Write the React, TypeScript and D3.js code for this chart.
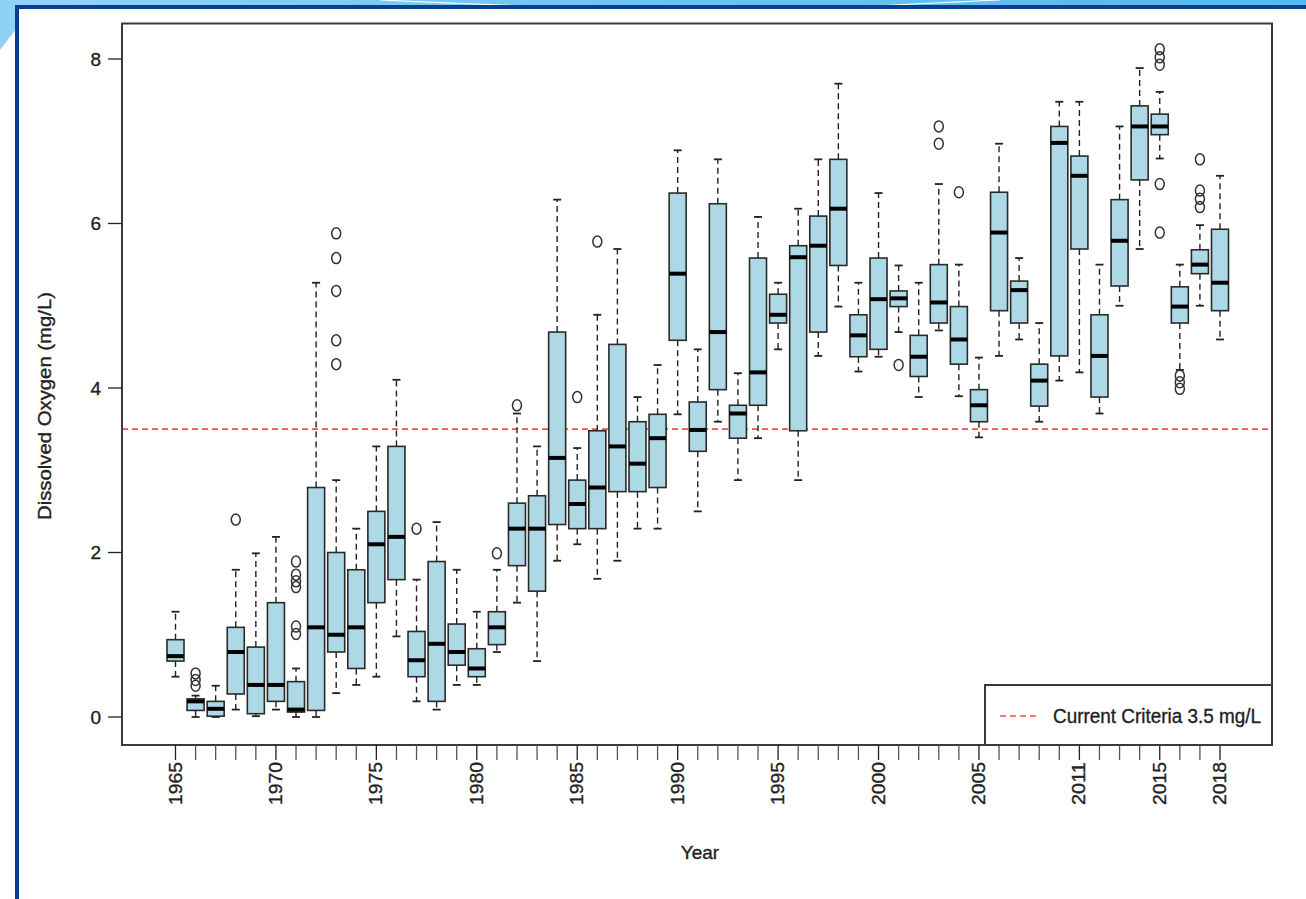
import React from "react";
import * as d3 from "d3";

// years on the x axis (2010 is not in the record)
const years = [
  1965, 1966, 1967, 1968, 1969, 1970, 1971, 1972, 1973, 1974, 1975, 1976, 1977, 1978,
  1979, 1980, 1981, 1982, 1983, 1984, 1985, 1986, 1987, 1988, 1989, 1990, 1991, 1992,
  1993, 1994, 1995, 1996, 1997, 1998, 1999, 2000, 2001, 2002, 2003, 2004, 2005, 2006,
  2007, 2008, 2009, 2011, 2012, 2013, 2014, 2015, 2016, 2017, 2018,
];
const labeledYears = [1965, 1970, 1975, 1980, 1985, 1990, 1995, 2000, 2005, 2011, 2015, 2018];

const whiskerLow = [
  0.49, 0.0, 0.0, 0.09, 0.01, 0.09, 0.0, 0.0, 0.29, 0.39, 0.49, 0.98, 0.19, 0.09,
  0.39, 0.39, 0.79, 1.39, 0.68, 1.9, 2.1, 1.68, 1.9, 2.29, 2.29, 3.68, 2.5, 3.59,
  2.88, 3.39, 4.47, 2.88, 4.39, 4.99, 4.2, 4.38, 4.68, 3.89, 4.7, 3.9, 3.4, 4.39,
  4.59, 3.59, 4.09, 4.19, 3.69, 5.0, 5.69, 6.79, 4.22, 5.0, 4.59,
];
const q1 = [
  0.68, 0.08, 0.01, 0.28, 0.04, 0.19, 0.06, 0.08, 0.79, 0.59, 1.39, 1.67, 0.49, 0.19,
  0.63, 0.49, 0.88, 1.84, 1.53, 2.34, 2.29, 2.29, 2.74, 2.74, 2.79, 4.58, 3.23, 3.98,
  3.39, 3.79, 4.79, 3.48, 4.68, 5.49, 4.38, 4.47, 4.99, 4.14, 4.79, 4.29, 3.59, 4.94,
  4.79, 3.78, 4.39, 5.69, 3.89, 5.24, 6.53, 7.08, 4.79, 5.39, 4.94,
];
const median = [
  0.74, 0.19, 0.1, 0.79, 0.39, 0.39, 0.09, 1.09, 1.0, 1.09, 2.1, 2.19, 0.69, 0.89,
  0.79, 0.59, 1.09, 2.29, 2.29, 3.15, 2.59, 2.79, 3.29, 3.08, 3.39, 5.39, 3.49, 4.68,
  3.69, 4.19, 4.89, 5.59, 5.73, 6.18, 4.64, 5.08, 5.09, 4.38, 5.04, 4.59, 3.79, 5.89,
  5.19, 4.09, 6.98, 6.58, 4.39, 5.79, 7.18, 7.18, 4.99, 5.5, 5.28,
];
const q3 = [
  0.94, 0.22, 0.19, 1.09, 0.85, 1.39, 0.43, 2.79, 2.0, 1.79, 2.5, 3.29, 1.04, 1.89,
  1.13, 0.83, 1.28, 2.6, 2.69, 4.68, 2.88, 3.48, 4.53, 3.59, 3.68, 6.37, 3.83, 6.24,
  3.79, 5.58, 5.14, 5.73, 6.09, 6.78, 4.89, 5.58, 5.18, 4.64, 5.5, 4.99, 3.98, 6.38,
  5.3, 4.29, 7.18, 6.82, 4.89, 6.29, 7.43, 7.33, 5.23, 5.68, 5.93,
];
const whiskerHigh = [
  1.28, 0.26, 0.38, 1.79, 1.99, 2.19, 0.59, 5.28, 2.88, 2.29, 3.29, 4.1, 1.67, 2.37,
  1.79, 1.28, 1.79, 3.69, 3.29, 6.29, 3.27, 4.89, 5.69, 3.89, 4.28, 6.89, 4.47, 6.78,
  4.18, 6.08, 5.28, 6.18, 6.78, 7.7, 5.28, 6.37, 5.49, 5.28, 6.48, 5.5, 4.37, 6.97,
  5.58, 4.79, 7.48, 7.48, 5.5, 7.18, 7.89, 7.6, 5.5, 5.98, 6.58,
];
const outliers: number[][] = [
  [], [0.53, 0.45, 0.38], [], [2.4], [], [], [1.89, 1.73, 1.65, 1.58, 1.1, 1.01], [],
  [5.88, 5.58, 5.18, 4.58, 4.29], [], [], [], [2.29], [], [], [], [1.99], [3.79], [], [],
  [3.89], [5.78], [], [], [], [], [], [], [], [], [], [], [], [], [], [], [4.28], [],
  [7.18, 6.97], [6.38], [], [], [], [], [], [], [], [], [],
  [8.12, 8.02, 7.93, 6.48, 5.89], [4.15, 4.07, 3.99], [6.78, 6.4, 6.3, 6.2], [],
];
const yTicks = [0, 2, 4, 6, 8];
const criteria = 3.5;

const W = 1306;
const H = 899;
const frame = { left: 122, right: 1272, top: 23.5, bottom: 745 };
const font = "'Liberation Sans', Arial, sans-serif";
const ink = "#222";

export default function App() {
  const x = d3.scalePoint<number>().domain(years).range([175.5, 1220]);
  const y = d3.scaleLinear().domain([0, 8]).range([717, 59]);
  const boxW = 17;
  const stapleW = 8;
  // slightly heavier text, like the blurred original
  const textStroke = { stroke: ink, strokeWidth: 0.35 };

  return (
    <svg
      width={W}
      height={H}
      style={{ position: "absolute", left: 0, top: 0, background: "#fff" }}
    >
      <defs>
        <linearGradient id="band" x1="0" x2="1" y1="0" y2="0">
          <stop offset="0" stopColor="#93d4f7" />
          <stop offset="0.5" stopColor="#6cc4f2" />
          <stop offset="1" stopColor="#55b8ee" />
        </linearGradient>
      </defs>

      {/* slide decoration */}
      <rect x={0} y={0} width={W} height={8} fill="url(#band)" />
      <polygon points="0,0 17,0 17,28 0,50" fill="#8fd2f6" />
      <path d="M380,0 Q500,6 620,8" stroke="#fff" strokeWidth={1.2} fill="none" />
      <path d="M840,8 Q930,3 1000,0" stroke="#fff" strokeWidth={1.2} fill="none" />
      <path d="M17,899 L17,7 L1306,7" stroke="#0b3f8c" strokeWidth={4} fill="none" />

      {/* reference line */}
      <line
        x1={frame.left}
        x2={frame.right}
        y1={y(criteria)}
        y2={y(criteria)}
        stroke="#ff4a4a"
        strokeWidth={1.6}
        strokeDasharray="6,4"
      />

      {/* boxes */}
      {years.map((yr, i) => {
        const cx = x(yr) as number;
        return (
          <g key={yr}>
            <line x1={cx} x2={cx} y1={y(q3[i])} y2={y(whiskerHigh[i])} stroke={ink} strokeWidth={1.4} strokeDasharray="6,4" />
            <line x1={cx} x2={cx} y1={y(q1[i])} y2={y(whiskerLow[i])} stroke={ink} strokeWidth={1.4} strokeDasharray="6,4" />
            <line x1={cx - stapleW / 2} x2={cx + stapleW / 2} y1={y(whiskerHigh[i])} y2={y(whiskerHigh[i])} stroke={ink} strokeWidth={1.8} />
            <line x1={cx - stapleW / 2} x2={cx + stapleW / 2} y1={y(whiskerLow[i])} y2={y(whiskerLow[i])} stroke={ink} strokeWidth={1.8} />
            <rect
              x={cx - boxW / 2}
              y={y(q3[i])}
              width={boxW}
              height={Math.max(1, y(q1[i]) - y(q3[i]))}
              fill="#add8e6"
              stroke="#2a2a2a"
              strokeWidth={1.6}
            />
            <line x1={cx - boxW / 2} x2={cx + boxW / 2} y1={y(median[i])} y2={y(median[i])} stroke="#000" strokeWidth={4} />
            {outliers[i].map((v, j) => (
              <ellipse key={j} cx={cx} cy={y(v)} rx={4.5} ry={5.5} fill="none" stroke="#333" strokeWidth={1.5} />
            ))}
          </g>
        );
      })}

      {/* plot frame */}
      <rect
        x={frame.left}
        y={frame.top}
        width={frame.right - frame.left}
        height={frame.bottom - frame.top}
        fill="none"
        stroke="#3a3a3a"
        strokeWidth={2}
      />

      {/* y axis */}
      {yTicks.map((t) => (
        <g key={t}>
          <line x1={108} x2={frame.left} y1={y(t)} y2={y(t)} stroke={ink} strokeWidth={1.3} />
          <text x={101} y={y(t)} textAnchor="end" dominantBaseline="central" fontFamily={font} fontSize={19} fill={ink} {...textStroke}>
            {t}
          </text>
        </g>
      ))}
      <text
        transform={`translate(45,406) rotate(-90)`}
        textAnchor="middle"
        dominantBaseline="central"
        fontFamily={font}
        fontSize={18}
        fill={ink}
        textLength={228}
        lengthAdjust="spacingAndGlyphs"
        {...textStroke}
      >
        Dissolved Oxygen (mg/L)
      </text>

      {/* x axis */}
      {years.map((yr) => {
        const cx = x(yr) as number;
        const lab = labeledYears.includes(yr);
        return (
          <g key={yr}>
            <line x1={cx} x2={cx} y1={frame.bottom} y2={760} stroke={lab ? ink : "#555"} strokeWidth={1.3} />
            {lab && (
              <text
                transform={`translate(${cx},762) rotate(-90)`}
                textAnchor="end"
                dominantBaseline="central"
                fontFamily={font}
                fontSize={18}
                fill={ink}
                textLength={43}
                lengthAdjust="spacingAndGlyphs"
                {...textStroke}
              >
                {yr}
              </text>
            )}
          </g>
        );
      })}
      <text x={700} y={852} textAnchor="middle" dominantBaseline="central" fontFamily={font} fontSize={19} fill={ink} {...textStroke}>
        Year
      </text>

      {/* legend */}
      <rect x={985} y={685} width={frame.right - 985} height={frame.bottom - 685} fill="#fff" stroke="#3a3a3a" strokeWidth={2} />
      <line x1={1000} x2={1038} y1={716} y2={716} stroke="#ff4a4a" strokeWidth={1.6} strokeDasharray="6,4" />
      <text
        x={1053}
        y={716}
        dominantBaseline="central"
        fontFamily={font}
        fontSize={20}
        fill={ink}
        textLength={208}
        lengthAdjust="spacingAndGlyphs"
        {...textStroke}
      >
        Current Criteria 3.5 mg/L
      </text>
    </svg>
  );
}
